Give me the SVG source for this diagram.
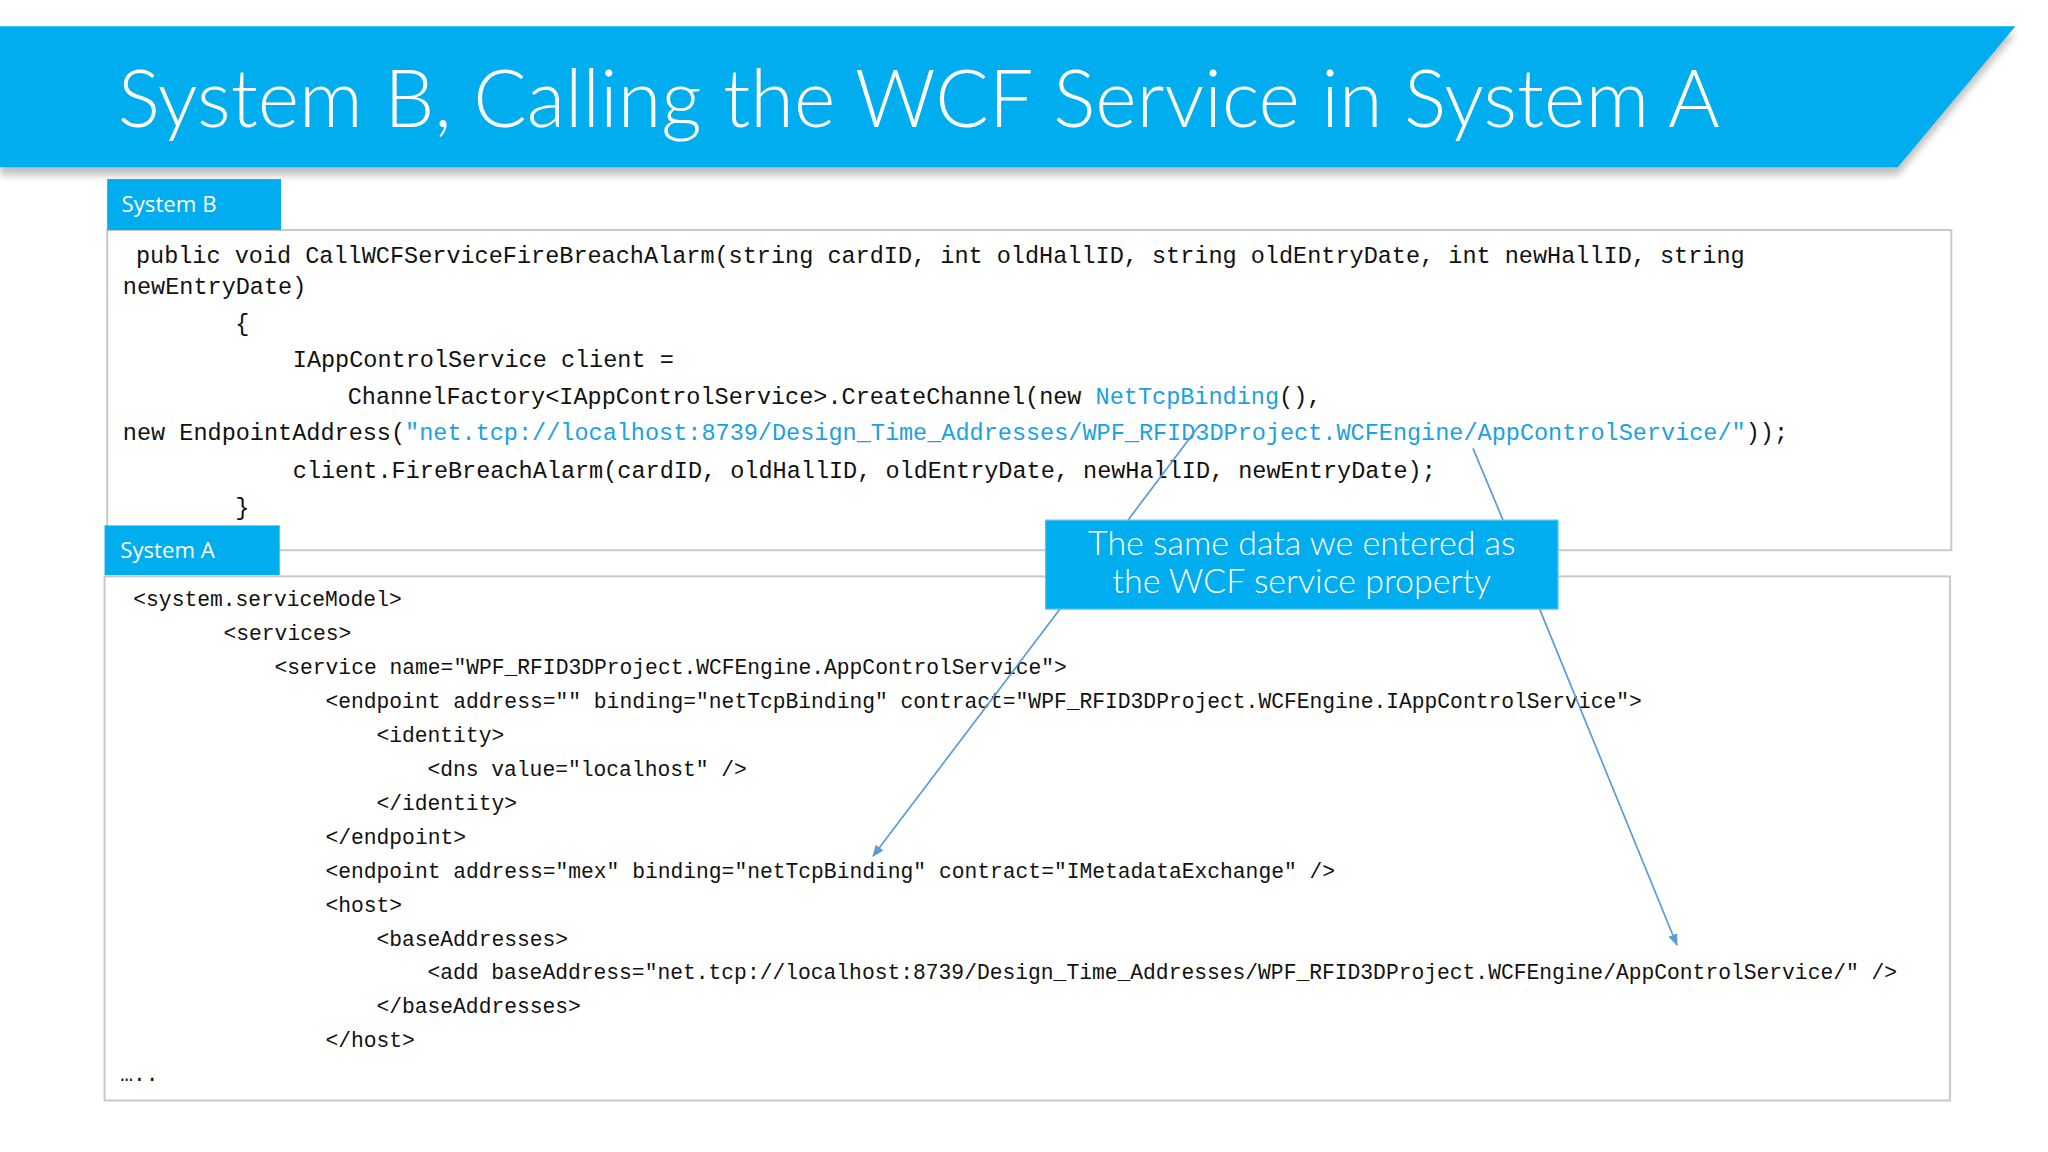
<svg xmlns="http://www.w3.org/2000/svg" width="2048" height="1152" viewBox="0 0 2048 1152">
<style>
.tab{fill:#00adef}
.tabt{font-family:"Open Sans","Noto Sans",sans-serif;font-size:17px;fill:#fff}
.box{fill:#fff;stroke:#c8c8c8;stroke-width:1.5}
.cb{font-family:"Liberation Mono",monospace;font-size:18px;fill:#111}
.xa{font-family:"Liberation Mono",monospace;font-size:16.3px;fill:#111}
.bl{fill:#1ba1e2}
.con{stroke:#5b9bd5;stroke-width:1.3;fill:none}
.ct{font-family:"Lato","Open Sans",sans-serif;font-weight:300;font-size:26px;fill:#fff}
</style>
<defs>
<marker id="ah" viewBox="0 0 10 10" refX="9" refY="5" markerWidth="7" markerHeight="7" orient="auto"><path d="M0,1 L10,5 L0,9 Z" fill="#5b9bd5"/></marker>
<filter id="sh" x="-5%" y="-20%" width="110%" height="150%"><feGaussianBlur stdDeviation="3"/></filter>
</defs>
<rect width="2048" height="1152" fill="#fff"/>
<g transform="scale(1.307)">
<g id="banner">
<polygon points="0,26 1542,26 1452,134 0,134" fill="#999" opacity="0.6" filter="url(#sh)"/>
<polygon points="0,20 1542,20 1452,128 0,128" fill="#00adef"/>
<text x="90" y="97" font-family="Lato, Open Sans, sans-serif" font-weight="300" font-size="62" fill="#fff" textLength="1226" lengthAdjust="spacingAndGlyphs">System B, Calling the WCF Service in System A</text>
</g>
<g id="systemB">
<rect class="box" x="82" y="176" width="1411" height="245"/>
<rect class="tab" x="82" y="137" width="133" height="39"/>
<text class="tabt" x="93" y="162">System B</text>
<text class="cb" x="104" y="201">public void CallWCFServiceFireBreachAlarm(string cardID, int oldHallID, string oldEntryDate, int newHallID, string</text>
<text class="cb" x="94" y="225">newEntryDate)</text>
<text class="cb" x="180" y="253">{</text>
<text class="cb" x="224" y="281">IAppControlService client =</text>
<text class="cb" x="266" y="309">ChannelFactory&lt;IAppControlService&gt;.CreateChannel(new <tspan class="bl">NetTcpBinding</tspan>(),</text>
<text class="cb" x="94" y="337">new EndpointAddress(<tspan class="bl">"net.tcp://localhost:8739/Design_Time_Addresses/WPF_RFID3DProject.WCFEngine/AppControlService/"</tspan>));</text>
<text class="cb" x="224" y="366">client.FireBreachAlarm(cardID, oldHallID, oldEntryDate, newHallID, newEntryDate);</text>
<text class="cb" x="180" y="394">}</text>
</g>
<g id="systemA">
<rect class="box" x="80" y="441" width="1412" height="401"/>
<rect class="tab" x="80" y="402" width="134" height="38"/>
<text class="tabt" x="92" y="427">System A</text>
<text class="xa" x="102" y="464">&lt;system.serviceModel&gt;</text>
<text class="xa" x="171" y="490">&lt;services&gt;</text>
<text class="xa" x="210" y="516">&lt;service name="WPF_RFID3DProject.WCFEngine.AppControlService"&gt;</text>
<text class="xa" x="249" y="542">&lt;endpoint address="" binding="netTcpBinding" contract="WPF_RFID3DProject.WCFEngine.IAppControlService"&gt;</text>
<text class="xa" x="288" y="568">&lt;identity&gt;</text>
<text class="xa" x="327" y="594">&lt;dns value="localhost" /&gt;</text>
<text class="xa" x="288" y="620">&lt;/identity&gt;</text>
<text class="xa" x="249" y="646">&lt;/endpoint&gt;</text>
<text class="xa" x="249" y="672">&lt;endpoint address="mex" binding="netTcpBinding" contract="IMetadataExchange" /&gt;</text>
<text class="xa" x="249" y="698">&lt;host&gt;</text>
<text class="xa" x="288" y="724">&lt;baseAddresses&gt;</text>
<text class="xa" x="327" y="749">&lt;add baseAddress="net.tcp://localhost:8739/Design_Time_Addresses/WPF_RFID3DProject.WCFEngine/AppControlService/" /&gt;</text>
<text class="xa" x="288" y="775">&lt;/baseAddresses&gt;</text>
<text class="xa" x="249" y="801">&lt;/host&gt;</text>
<text class="xa" x="92" y="827">…..</text>
</g>
<g id="connectors">
<line class="con" x1="863" y1="398" x2="918" y2="325"/>
<line class="con" x1="1150" y1="398" x2="1127" y2="343"/>
<line class="con" x1="811" y1="466" x2="668" y2="655" marker-end="url(#ah)"/>
<line class="con" x1="1178" y1="466" x2="1283" y2="723" marker-end="url(#ah)"/>
</g>
<g id="callout">
<rect x="800" y="398" width="392" height="68" fill="#00adef" stroke="#4fc3f7" stroke-width="1"/>
<text class="ct" x="996" y="425" text-anchor="middle">The same data we entered as</text>
<text class="ct" x="996" y="454" text-anchor="middle">the WCF service property</text>
</g>
</g>
</svg>
